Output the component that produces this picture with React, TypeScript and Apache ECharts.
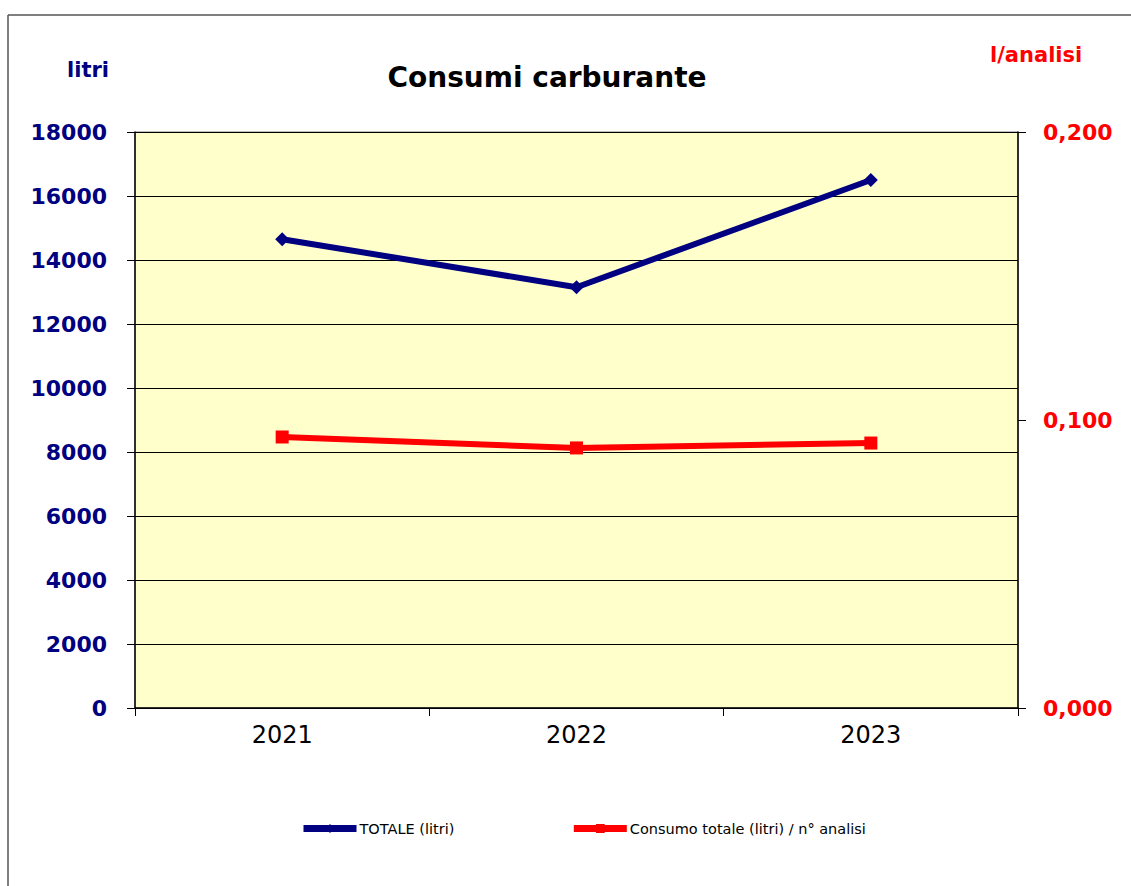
import React, { useEffect, useRef } from "react";
import * as echarts from "echarts";

const categories = ["2021", "2022", "2023"];
const totaleLitri = [14650, 13150, 16500];
const litriPerAnalisi = [0.0941, 0.0903, 0.092];
const leftTicks = [0, 18000, 2000];
const rightTicks = [0, 0.2, 0.1];

export default function App() {
  const ref = useRef<HTMLDivElement>(null);
  useEffect(() => {
    document.body.style.margin = "0";
    const chart = echarts.init(ref.current!, null, { renderer: "svg" });
    const font = "'DejaVu Sans', Verdana, sans-serif";
    chart.setOption({
      animation: false,
      backgroundColor: "#ffffff",
      textStyle: { fontFamily: font },
      title: {
        text: "Consumi carburante",
        left: 542,
        top: 58,
        textAlign: "center",
        textStyle: { fontSize: 28, fontWeight: "bold", color: "#000000", fontFamily: font },
      },
      graphic: [
        { type: "line", shape: { x1: 8, y1: 15, x2: 1200, y2: 15 }, style: { stroke: "#555555", lineWidth: 1.5 } },
        { type: "line", shape: { x1: 8, y1: 15, x2: 8, y2: 900 }, style: { stroke: "#555555", lineWidth: 1.5 } },
        { type: "text", left: 67, top: 59, style: { text: "litri", fill: "#000080", font: "bold 21px " + font } },
        { type: "text", left: 990, top: 44, style: { text: "l/analisi", fill: "#ff0000", font: "bold 21px " + font } },
      ],
      legend: {
        top: 816,
        left: 295,
        itemGap: 116,
        itemWidth: 53,
        itemHeight: 11,
        textStyle: { fontSize: 14.5, color: "#000000", fontFamily: font, padding: [0, 0, 0, -2] },
        data: [
          { name: "TOTALE (litri)", itemStyle: { color: "#000080" }, lineStyle: { width: 7, color: "#000080" } },
          {
            name: "Consumo totale (litri) / n° analisi",
            itemStyle: { color: "#ff0000" },
            lineStyle: { width: 7, color: "#ff0000" },
          },
        ],
      },
      grid: { left: 135, right: 113, top: 132, bottom: 178, show: true, backgroundColor: "#ffffcc", borderColor: "#808080", borderWidth: 1 },
      xAxis: {
        type: "category",
        data: categories,
        boundaryGap: true,
        axisLine: { lineStyle: { color: "#000000", width: 1.5 } },
        axisTick: { show: true, length: 8, lineStyle: { color: "#000000" } },
        axisLabel: { fontSize: 24, color: "#000000", margin: 15, fontFamily: font },
      },
      yAxis: [
        {
          type: "value",
          min: leftTicks[0],
          max: leftTicks[1],
          interval: leftTicks[2],
          axisLine: { show: true, lineStyle: { color: "#000000", width: 1.5 } },
          axisTick: { show: true, length: 8, lineStyle: { color: "#000000" } },
          splitLine: { show: true, lineStyle: { color: "#000000", width: 1 } },
          axisLabel: {
            fontSize: 22,
            fontWeight: "bold",
            color: "#000080",
            margin: 28,
            fontFamily: font,
            formatter: (v: number) => String(v),
          },
        },
        {
          type: "value",
          position: "right",
          min: rightTicks[0],
          max: rightTicks[1],
          interval: rightTicks[2],
          axisLine: { show: true, lineStyle: { color: "#000000", width: 1.5 } },
          axisTick: { show: true, length: 8, lineStyle: { color: "#000000" } },
          splitLine: { show: false },
          axisLabel: {
            fontSize: 22,
            fontWeight: "bold",
            color: "#ff0000",
            margin: 25,
            fontFamily: font,
            formatter: (v: number) => v.toFixed(3).replace(".", ","),
          },
        },
      ],
      series: [
        {
          name: "TOTALE (litri)",
          type: "line",
          data: totaleLitri,
          yAxisIndex: 0,
          symbol: "diamond",
          symbolSize: 14,
          lineStyle: { color: "#000080", width: 6 },
          itemStyle: { color: "#000080" },
        },
        {
          name: "Consumo totale (litri) / n° analisi",
          type: "line",
          data: litriPerAnalisi,
          yAxisIndex: 1,
          symbol: "rect",
          symbolSize: 13,
          lineStyle: { color: "#ff0000", width: 6 },
          itemStyle: { color: "#ff0000" },
        },
      ],
    });
    return () => chart.dispose();
  }, []);
  return <div ref={ref} style={{ width: 1131, height: 886 }} />;
}
